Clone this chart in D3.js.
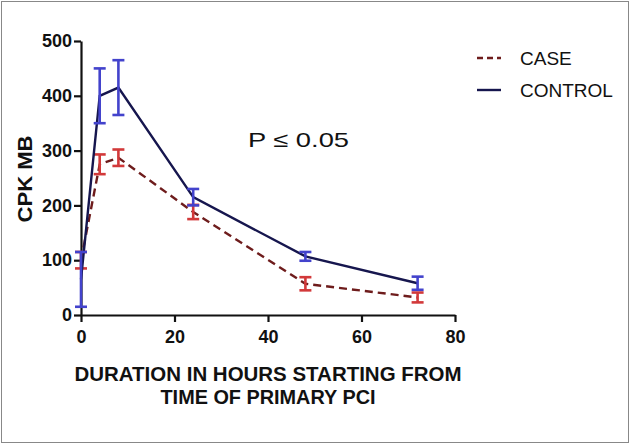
<!DOCTYPE html>
<html><head><meta charset="utf-8">
<script src="https://cdn.jsdelivr.net/npm/d3@7"></script>
<style>body{margin:0;background:#fff}svg{display:block}</style>
</head><body>
<script>
const hours = [0, 4, 8, 24, 48, 72];
const caseMean = [100, 275, 287, 188, 57, 32];
const caseErr = [15, 18, 15, 13, 12, 9];
const controlMean = [65, 400, 415, 215, 107, 58];
const controlErr = [50, 50, 50, 15, 8, 12];
const xTicks = [0, 20, 40, 60, 80];
const yTicks = [0, 100, 200, 300, 400, 500];
const seriesNames = ["CASE", "CONTROL"];

const W = 630, H = 444;
const svg = d3.select("body").append("svg").attr("width", W).attr("height", H);
svg.append("rect").attr("x", 1.5).attr("y", 1.5).attr("width", W - 3).attr("height", H - 3)
  .attr("fill", "#fff").attr("stroke", "#888").attr("stroke-width", 1);

const x = d3.scaleLinear().domain([0, 80]).range([81, 455]);
const y = d3.scaleLinear().domain([0, 500]).range([315, 41]);

const font = "'Liberation Sans', Arial, sans-serif";

// axes
const xAx = svg.append("g").attr("transform", "translate(0,315)")
  .call(d3.axisBottom(x).tickValues(xTicks).tickSize(7).tickPadding(8).tickSizeOuter(0));
const yAx = svg.append("g").attr("transform", "translate(81,0)")
  .call(d3.axisLeft(y).tickValues(yTicks).tickSize(7).tickPadding(2).tickSizeOuter(0));
[xAx, yAx].forEach(a => {
  a.select(".domain").attr("stroke", "#111").attr("stroke-width", 2.2);
  a.selectAll(".tick line").attr("stroke", "#111").attr("stroke-width", 2.2);
  a.selectAll(".tick text").attr("font-family", font).attr("font-weight", "bold")
    .attr("font-size", 18).attr("fill", "#111");
});

// series
const series = [
  {name: seriesNames[0], mean: caseMean, err: caseErr, line: "#6e1c1c", bar: "#d2393a", dash: "8,5"},
  {name: seriesNames[1], mean: controlMean, err: controlErr, line: "#16164e", bar: "#4343cc", dash: null}
];
const lineGen = d3.line().x(d => x(d[0])).y(d => y(d[1]));
series.forEach(s => {
  const pts = hours.map((h, i) => [h, s.mean[i]]);
  svg.append("path").attr("d", lineGen(pts)).attr("fill", "none")
    .attr("stroke", s.line).attr("stroke-width", 2.4)
    .attr("stroke-dasharray", s.dash);
  const g = svg.append("g").attr("stroke", s.bar).attr("stroke-width", 2.6);
  hours.forEach((h, i) => {
    const cx = x(h), y1 = y(s.mean[i] + s.err[i]), y2 = y(s.mean[i] - s.err[i]);
    g.append("line").attr("x1", cx).attr("x2", cx).attr("y1", y1).attr("y2", y2);
    g.append("line").attr("x1", cx - 6).attr("x2", cx + 6).attr("y1", y1).attr("y2", y1);
    g.append("line").attr("x1", cx - 6).attr("x2", cx + 6).attr("y1", y2).attr("y2", y2);
  });
});

// axis titles
svg.append("text").attr("transform", "translate(32,179) rotate(-90)")
  .attr("text-anchor", "middle").attr("font-family", font).attr("font-weight", "bold")
  .attr("font-size", 20).attr("fill", "#111")
  .attr("textLength", 87).attr("lengthAdjust", "spacingAndGlyphs").text("CPK MB");
const xt = svg.append("text").attr("text-anchor", "middle").attr("font-family", font)
  .attr("font-weight", "bold").attr("font-size", 21).attr("fill", "#111");
xt.append("tspan").attr("x", 268).attr("y", 381)
  .attr("textLength", 387).attr("lengthAdjust", "spacingAndGlyphs")
  .text("DURATION IN HOURS STARTING FROM");
xt.append("tspan").attr("x", 268).attr("y", 404)
  .attr("textLength", 215).attr("lengthAdjust", "spacingAndGlyphs")
  .text("TIME OF PRIMARY PCI");

// annotation
svg.append("text").attr("x", 248).attr("y", 147).attr("font-family", font)
  .attr("font-size", 21).attr("fill", "#111")
  .attr("textLength", 101).attr("lengthAdjust", "spacingAndGlyphs").text("P \u2264 0.05");

// legend
series.forEach((s, i) => {
  const ly = 58 + i * 32;
  svg.append("line").attr("x1", 477).attr("x2", 501).attr("y1", ly).attr("y2", ly)
    .attr("stroke", s.line).attr("stroke-width", 2.4).attr("stroke-dasharray", s.dash ? "6,4" : null);
  svg.append("text").attr("x", 520).attr("y", ly + 7).attr("font-family", font)
    .attr("font-size", 19).attr("fill", "#111").text(s.name);
});
</script>
</body></html>
